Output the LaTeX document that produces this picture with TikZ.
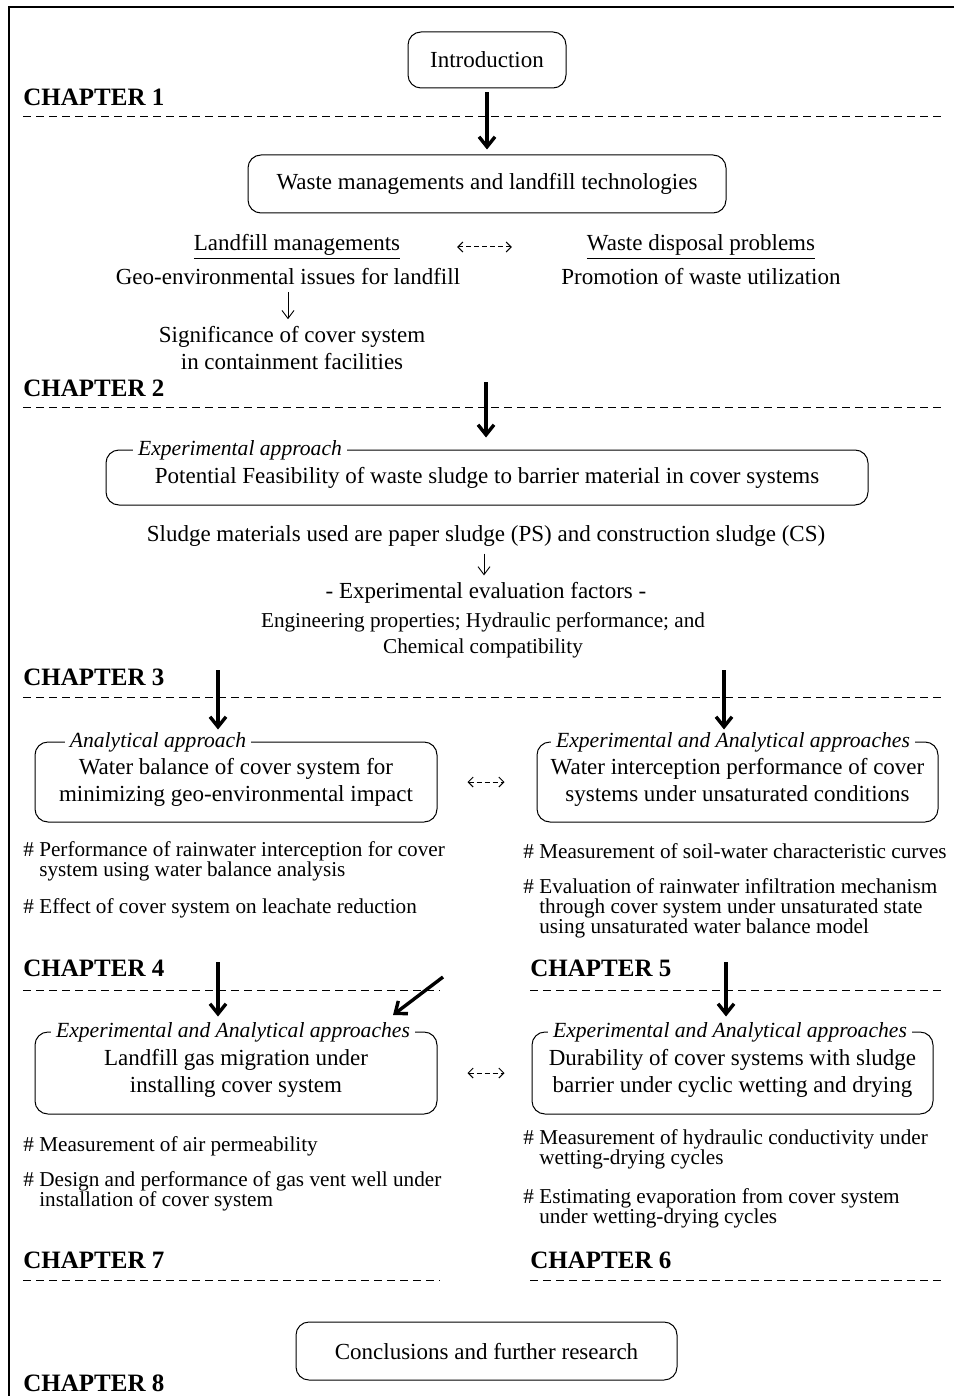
\documentclass[tikz,border=0pt]{standalone}
\usepackage{fontspec}
\setmainfont{Liberation Serif}
\usetikzlibrary{arrows.meta}

\newcommand{\mainsize}{\fontsize{11.5}{13.5}\selectfont}
\newcommand{\notesize}{\fontsize{10.6}{10}\selectfont}

\begin{document}
\begin{tikzpicture}[x=0.5pt, y=-0.5pt,
  every node/.style={font=\mainsize},
  roundbox/.style={draw, rounded corners=6.5pt, line width=0.5pt, align=center},
  tag/.style={fill=white, inner sep=2.5pt, font=\fontsize{10.8}{12}\selectfont\itshape},
  chap/.style={anchor=west, inner sep=0pt, font=\fontsize{12.5}{14}\selectfont\bfseries},
  chapline/.style={dash pattern=on 4pt off 2.5pt, line width=0.5pt},
  bigarrow/.style={line width=1.7pt, -{Straight Barb[length=5pt,width=8pt]}},
  thinarrow/.style={line width=0.45pt, -{Straight Barb[length=4pt,width=6pt]}},
  linkarrow/.style={dash pattern=on 2.5pt off 1.5pt, line width=0.5pt,
    {Straight Barb[length=2.5pt,width=5pt]}-{Straight Barb[length=2.5pt,width=5pt]}},
  note/.style={anchor=west, align=left, inner sep=0pt, font=\notesize}]

\useasboundingbox (0,0) rectangle (954,1396);
\draw[line width=0.7pt] (954,7) -- (9,7) -- (9,1396);

% chapter headings
\node[chap] (ch1) at (23,97) {CHAPTER 1};
\node[chap] (ch2) at (23,388) {CHAPTER 2};
\node[chap] (ch3) at (23,677) {CHAPTER 3};
\node[chap] (ch4) at (23,968) {CHAPTER 4};
\node[chap] (ch5) at (530,968) {CHAPTER 5};
\node[chap] (ch7) at (23,1260) {CHAPTER 7};
\node[chap] (ch6) at (530,1260) {CHAPTER 6};
\node[chap] (ch8) at (23,1383) {CHAPTER 8};

\draw[chapline] (23,117) -- (945,117);
\draw[chapline] (23,407) -- (945,407);
\draw[chapline] (23,697) -- (945,697);
\draw[chapline] (23,990) -- (440,990);
\draw[chapline] (530,990) -- (945,990);
\draw[chapline] (23,1280) -- (440,1280);
\draw[chapline] (530,1280) -- (945,1280);

% chapter 1
\node[roundbox, minimum width=79pt, minimum height=28pt] (intro) at (487,60) {Introduction};
\node[roundbox, minimum width=239pt, minimum height=29pt] (waste) at (487,184) {Waste managements and landfill technologies};
\node (lm) at (297,247) {\underline{Landfill managements}};
\node (wd) at (701,247) {\underline{Waste disposal problems}};
\node (geo) at (288,277) {Geo-environmental issues for landfill};
\node (promo) at (701,277) {Promotion of waste utilization};
\node[align=center] (signif) at (292,348) {Significance of cover system\\in containment facilities};

\draw[bigarrow, shorten <=2pt, shorten >=2.5pt] (intro) -- (waste);
\draw[linkarrow, shorten <=25pt, shorten >=34pt] (lm.east) -- (wd.west);
\draw[thinarrow] (geo.south) -- (geo.south |- signif.north);

% chapter 2
\node[roundbox, minimum width=381pt, minimum height=27.5pt] (feas) at (487,477.5) {Potential Feasibility of waste sludge to barrier material in cover systems};
\node[tag] (feastag) at (240,450) {Experimental approach};
\node (sludge) at (486,536) {Sludge materials used are paper sludge (PS) and construction sludge (CS)};
\node (factors) at (486,593) {- Experimental evaluation factors -};
\node[align=center, font=\fontsize{10.6}{13}\selectfont] (props) at (483,635) {Engineering properties; Hydraulic performance; and\\Chemical compatibility};

\coordinate (c2) at (486,382);
\draw[bigarrow, shorten >=6pt] (c2) -- (c2 |- feas.north);
\draw[thinarrow] (sludge.south -| 484,0) -- (factors.north -| 484,0);

% chapter 3
\node[roundbox, minimum width=201pt, minimum height=40pt] (anal) at (236,782) {Water balance of cover system for\\minimizing geo-environmental impact};
\node[tag] (analtag) at (158,742) {Analytical approach};
\node[roundbox, minimum width=200.5pt, minimum height=40pt] (inter) at (737.5,782) {Water interception performance of cover\\systems under unsaturated conditions};
\node[tag] (intertag) at (733,742) {Experimental and Analytical approaches};

\coordinate (c3l) at (218,670);
\coordinate (c3r) at (724,670);
\draw[bigarrow, shorten >=6pt] (c3l) -- (c3l |- anal.north);
\draw[bigarrow, shorten >=6pt] (c3r) -- (c3r |- inter.north);
\draw[linkarrow, shorten <=15pt, shorten >=16pt] (anal.east) -- (inter.west);

\node[note] (b3a) at (23,861) {\# Performance of rainwater interception for cover\\\hphantom{\# }system using water balance analysis};
\node[note] (b3b) at (23,908) {\# Effect of cover system on leachate reduction};
\node[note] (b3c) at (523,851) {\# Measurement of soil-water characteristic curves};
\node[note] (b3d) at (523,908) {\# Evaluation of rainwater infiltration mechanism\\\hphantom{\# }through cover system under unsaturated state\\\hphantom{\# }using unsaturated water balance model};

% chapters 4 and 5
\node[roundbox, minimum width=201pt, minimum height=41pt] (gas) at (236,1073) {Landfill gas migration under\\installing cover system};
\node[tag] (gastag) at (233,1032) {Experimental and Analytical approaches};
\node[roundbox, minimum width=200.5pt, minimum height=41pt] (dur) at (732.5,1073) {Durability of cover systems with sludge\\barrier under cyclic wetting and drying};
\node[tag] (durtag) at (730,1032) {Experimental and Analytical approaches};

\coordinate (c4) at (218,962);
\coordinate (c5) at (726,962);
\coordinate (diagA) at (443,977);
\coordinate (diagB) at (393,1015);
\draw[bigarrow, shorten >=7.5pt] (c4) -- (c4 |- gas.north);
\draw[bigarrow, shorten >=7.5pt] (c5) -- (c5 |- dur.north);
\draw[bigarrow] (diagA) -- (diagB);
\draw[linkarrow, shorten <=15pt, shorten >=13.5pt] (gas.east) -- (dur.west);

\node[note] (b4a) at (23,1146) {\# Measurement of air permeability};
\node[note] (b4b) at (23,1191) {\# Design and performance of gas vent well under\\\hphantom{\# }installation of cover system};
\node[note] (b5a) at (523,1149.5) {\# Measurement of hydraulic conductivity under\\\hphantom{\# }wetting-drying cycles};
\node[note] (b5b) at (523,1208.5) {\# Estimating evaporation from cover system\\\hphantom{\# }under wetting-drying cycles};

% chapter 8
\node[roundbox, minimum width=190.5pt, minimum height=29pt] (concl) at (486.5,1351) {Conclusions and further research};

\end{tikzpicture}
\end{document}
